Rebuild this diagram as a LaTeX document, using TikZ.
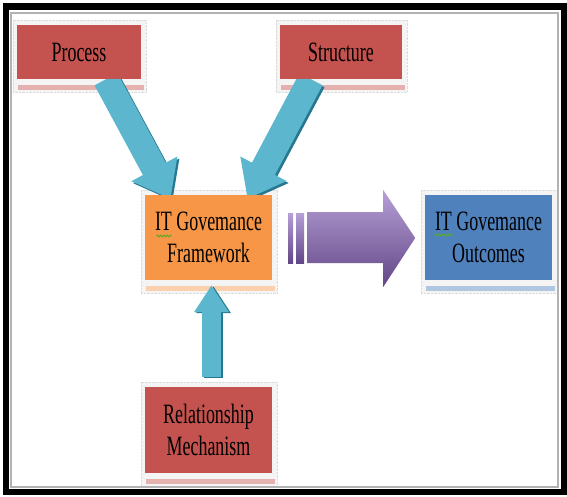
\documentclass[tikz,border=0pt]{standalone}
\usepackage{fontspec}
\newfontfamily\boxfont[FakeStretch=0.64]{Liberation Serif}
\usetikzlibrary{arrows.meta,calc,decorations.pathmorphing}

\definecolor{boxred}{RGB}{196,82,78}
\definecolor{boxorange}{RGB}{247,150,70}
\definecolor{boxblue}{RGB}{79,129,189}
\definecolor{arrowcyan}{RGB}{92,182,206}
\definecolor{arrowteal}{RGB}{38,120,145}
\definecolor{violetL}{RGB}{182,160,214}
\definecolor{violetM}{RGB}{132,102,168}
\definecolor{violetD}{RGB}{98,70,134}
\definecolor{spellgreen}{RGB}{90,170,40}

\pgfdeclarelayer{paper}
\pgfdeclarelayer{glow}
\pgfdeclarelayer{links}
\pgfsetlayers{paper,glow,links,main}

\tikzset{
  panel/.style={inner sep=0pt, align=center, text=black,
    font=\boxfont\fontsize{28}{32}\selectfont},
  fatlink/.style={line width=#1},
  spell/.style={spellgreen, line width=0.9pt,
    decorate, decoration={snake, segment length=3.2pt, amplitude=1pt}}
}

% soft halo and faded reflection strip behind a panel
\newcommand{\panelglow}[2]{%
  \begin{pgfonlayer}{glow}
    \fill[gray!9] ($(#1.north west)+(-4,-5)$) rectangle ($(#1.south east)+(5,13)$);
    \draw[gray!28, densely dotted] ($(#1.north west)+(-4,-5)$) rectangle ($(#1.south east)+(5,13)$);
    \fill[#2!45!white] ($(#1.south west)+(1,6)$) rectangle ($(#1.south east)+(3,11)$);
  \end{pgfonlayer}}

\begin{document}
\begin{tikzpicture}[x=1pt,y=-1pt]
\useasboundingbox (0,0) rectangle (567,496);
\begin{pgfonlayer}{paper}
  \fill[white] (0,0) rectangle (567,496);
\end{pgfonlayer}

% outer frame
\draw[black, line width=6.5pt] (6,6.5) rectangle (564,492);
\draw[gray!60, line width=1.2pt] (11,13) rectangle (558,487);

% panels
\node[panel, fill=boxred, minimum width=124pt, minimum height=54pt] (process) at (79,52) {Process};
\node[panel, fill=boxred, minimum width=122pt, minimum height=54pt] (structure) at (341,52) {Structure};
\node[panel, fill=boxorange, minimum width=127pt, minimum height=85pt] (framework) at (208.5,237.5) {IT Govemance\\Framework};
\node[panel, fill=boxblue, minimum width=127pt, minimum height=85pt] (outcomes) at (488.5,237.5) {IT Govemance\\Outcomes};
\node[panel, fill=boxred, minimum width=127pt, minimum height=86pt] (relationship) at (208.5,430) {Relationship\\Mechanism};

\panelglow{process}{boxred}
\panelglow{structure}{boxred}
\panelglow{framework}{boxorange}
\panelglow{outcomes}{boxblue}
\panelglow{relationship}{boxred}

% wavy underlines beneath "IT"
\draw[spell] ($(framework.center)+(-52,-1.5)$) -- ($(framework.center)+(-37,-1.5)$);
\draw[spell] ($(outcomes.center)+(-54,-2.5)$) -- ($(outcomes.center)+(-36,-2.5)$);

% cyan block arrows into the framework
\coordinate (p1) at ($(process.south)+(27,0)$);
\coordinate (f1) at ($(framework.north)+(-38,4)$);
\coordinate (s1) at ($(structure.south)+(-30,0)$);
\coordinate (f2) at ($(framework.north)+(39,4)$);
\coordinate (r1) at ($(relationship.north)+(3,-10)$);
\coordinate (f3) at ($(framework.south)+(3,5)$);

\begin{pgfonlayer}{links}
  \draw[arrowteal, fatlink=26pt, -{Triangle[length=34pt,width=50pt]}] ($(p1)+(2,2)$) -- ($(f1)+(2,2)$);
  \draw[arrowcyan, fatlink=26pt, -{Triangle[length=34pt,width=50pt]}] (p1) -- (f1);
  \draw[arrowteal, fatlink=26pt, -{Triangle[length=34pt,width=50pt]}] ($(s1)+(2,2)$) -- ($(f2)+(2,2)$);
  \draw[arrowcyan, fatlink=26pt, -{Triangle[length=34pt,width=50pt]}] (s1) -- (f2);
  \draw[arrowteal, fatlink=19pt, -{Triangle[length=27pt,width=33pt]}] ($(r1)+(2,1)$) -- ($(f3)+(2,1)$);
  \draw[arrowcyan, fatlink=19pt, -{Triangle[length=27pt,width=33pt]}] (r1) -- (f3);
\end{pgfonlayer}

% purple striped arrow from framework to outcomes
\coordinate (v0) at ($(framework.east)+(16,0.5)$);
\begin{scope}[shift={(v0)}]
  \shade[top color=violetL, bottom color=violetD] (0,-25) rectangle (5,25);
  \shade[top color=violetL, bottom color=violetD] (8,-25) rectangle (16,25);
  \shade[top color=violetL, middle color=violetM, bottom color=violetD]
    (19,-26) -- (95,-26) -- (95,-48) -- (127,0) -- (95,49) -- (95,25) -- (19,25) -- cycle;
\end{scope}
\end{tikzpicture}
\end{document}
